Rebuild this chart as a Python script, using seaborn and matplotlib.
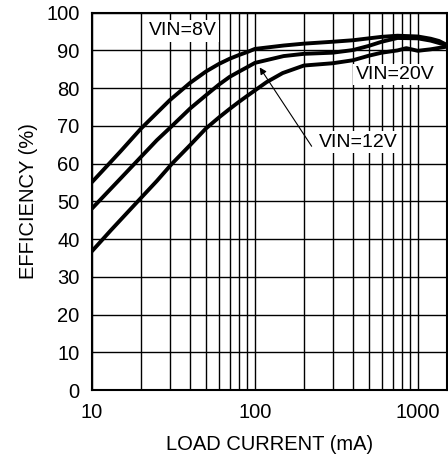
import numpy as np
import pandas as pd
import seaborn as sns
import matplotlib
matplotlib.use("Agg")
import matplotlib.pyplot as plt
from matplotlib.ticker import FixedLocator, FixedFormatter, NullFormatter

# efficiency curves (load current in mA, efficiency in %)
i_8v = [10, 12.5, 15, 20, 30, 40, 50, 60, 70, 80, 90, 100, 150, 200, 300, 400,
        500, 600, 750, 1000, 1200, 1350, 1500]
eff_8v = [55.1, 59.6, 63.3, 69.3, 76.8, 81.4, 84.4, 86.4, 87.8, 88.8, 89.6, 90.4, 91.3,
          91.8, 92.3, 92.7, 93.2, 93.6, 93.9, 93.7, 93.1, 92.5, 91.5]

i_12v = [10, 15, 20, 25, 31, 40, 50, 60, 70, 80, 90, 100, 150, 200,
         300, 400, 500, 600, 750, 1000, 1200, 1500]
eff_12v = [48.1, 56.1, 61.8, 66.2, 70, 74.6, 78.1, 80.9, 83.0, 84.4, 85.6, 86.7,
           88.5, 89.1, 89.4, 90.1, 91.2, 92.3, 93.3, 93.2, 92.6, 91.4]

i_20v = [10, 13.1, 19.1, 25, 31, 40, 50, 60, 70, 80, 90, 100, 118, 148, 200, 300,
         400, 500, 600, 750, 850, 1000, 1200, 1500]
eff_20v = [36.8, 42.4, 50, 55.4, 60, 64.9, 69.3, 72.2, 74.5, 76.4, 78.0, 79.4, 81.6, 84.0,
           86.0, 86.6, 87.4, 88.6, 89.4, 90.0, 90.6, 89.9, 90.3, 91.0]

y_ticks = list(range(0, 101, 10))
x_ticks = [10, 100, 1000]
x_ticklabels = ["10", "100", "1000"]

df = pd.concat([
    pd.DataFrame({"current": i_8v, "eff": eff_8v, "vin": "8V"}),
    pd.DataFrame({"current": i_12v, "eff": eff_12v, "vin": "12V"}),
    pd.DataFrame({"current": i_20v, "eff": eff_20v, "vin": "20V"}),
])

sns.set_style("white")
plt.rcParams["font.family"] = ["Liberation Sans", "DejaVu Sans"]
plt.rcParams["text.color"] = "black"
plt.rcParams["axes.labelcolor"] = "black"

fs = 14.5

fig = plt.figure(figsize=(4.48, 4.59), dpi=100)
ax = fig.add_axes([92 / 448, 1 - 390 / 459, 354.5 / 448, 377.3 / 459])

ax.set_xscale("log")
ax.set_xlim(10, 1500)
ax.set_ylim(0, 100)

# grid first so the curves sit on top
minor = [m * d for d in (10, 100) for m in range(2, 10)]
ax.xaxis.set_major_locator(FixedLocator(x_ticks))
ax.xaxis.set_major_formatter(FixedFormatter(x_ticklabels))
ax.xaxis.set_minor_locator(FixedLocator(minor))
ax.xaxis.set_minor_formatter(NullFormatter())
ax.set_yticks(y_ticks)
ax.grid(True, which="both", axis="x", color="black", lw=1.0)
ax.grid(True, which="major", axis="y", color="black", lw=1.0)
ax.set_axisbelow(True)

sns.lineplot(data=df, x="current", y="eff", units="vin", estimator=None,
             color="black", lw=2.8, sort=True, ax=ax, legend=False)

box = dict(boxstyle="square,pad=0.12", fc="white", ec="none")
ax.text(36, 95.2, "VIN=8V", ha="center", va="center", fontsize=14, bbox=box, zorder=5)
ax.text(725, 83.6, "VIN=20V", ha="center", va="center", fontsize=14, bbox=box, zorder=5)
ax.text(434, 65.7, "VIN=12V", ha="center", va="center", fontsize=14, bbox=box, zorder=5)
ax.annotate("", xy=(107, 85.5), xytext=(223, 64.6),
            arrowprops=dict(arrowstyle="-|>", color="black", lw=0.8, mutation_scale=10,
                            shrinkA=0, shrinkB=0), zorder=6)

for s in ax.spines.values():
    s.set_color("black")
    s.set_linewidth(1.5)

ax.tick_params(axis="both", which="both", length=0, labelsize=fs,
               colors="black", labelcolor="black")
ax.tick_params(axis="x", pad=9)
ax.tick_params(axis="y", pad=9)
ax.set_xlabel("LOAD CURRENT (mA)", fontsize=fs, labelpad=10)
ax.set_ylabel("EFFICIENCY (%)", fontsize=fs, labelpad=6)

fig.savefig("out.png", dpi=100)
